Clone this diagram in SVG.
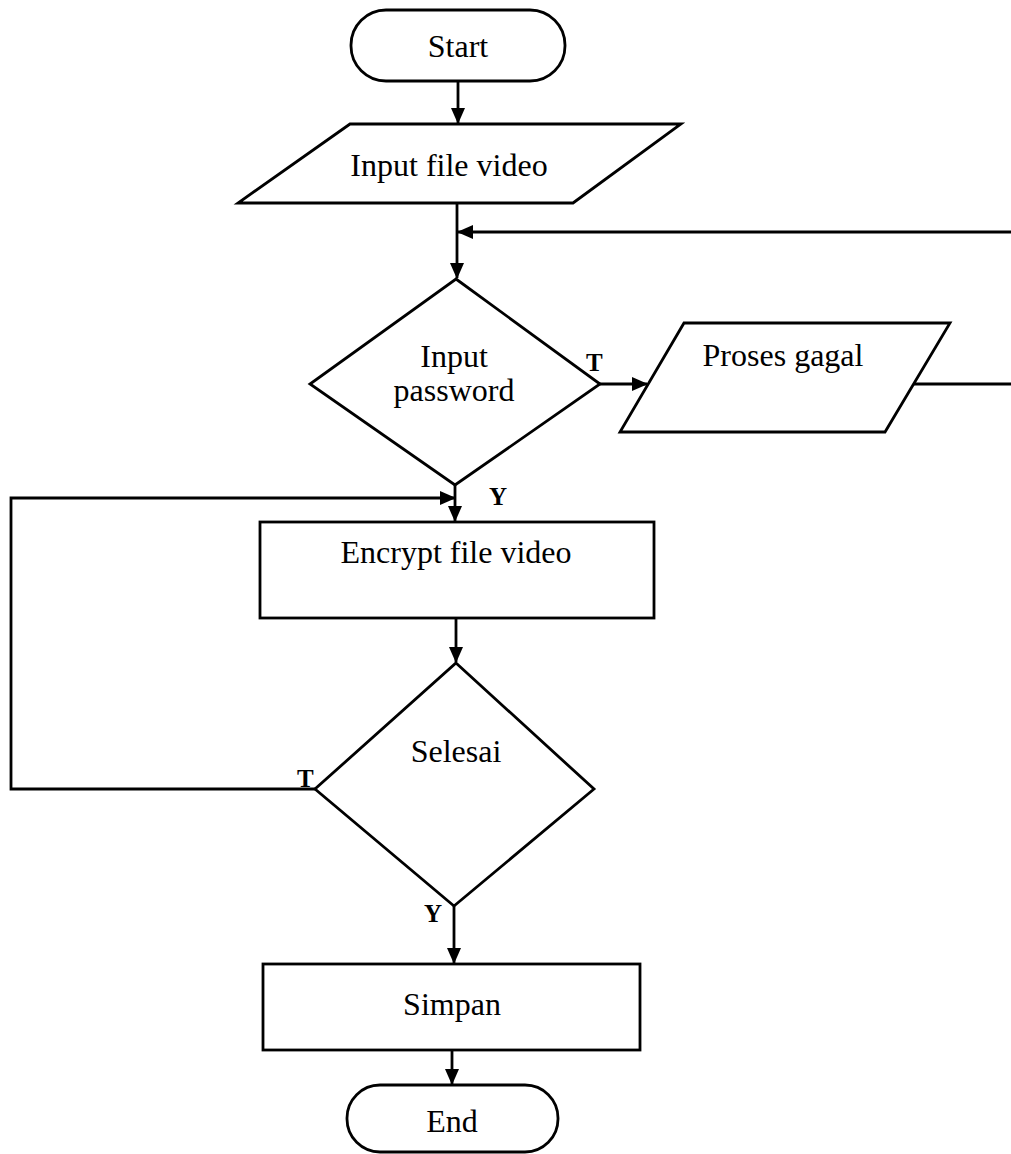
<svg xmlns="http://www.w3.org/2000/svg" width="1011" height="1154" viewBox="0 0 1011 1154">
  <style>
    .shape { fill: #ffffff; stroke: #000000; stroke-width: 2.8; stroke-linejoin: miter; }
    .arrow { fill: none; stroke: #000000; stroke-width: 2.8; marker-end: url(#head); }
    .label { font-family: "Liberation Serif", "Times New Roman", serif; font-size: 32px; fill: #000000; text-anchor: middle; }
    .tag { font-family: "Liberation Serif", "Times New Roman", serif; font-size: 25px; font-weight: bold; fill: #000000; }
  </style>
  <defs>
    <marker id="head" viewBox="0 0 16 14" refX="15" refY="7" markerWidth="16" markerHeight="14" markerUnits="userSpaceOnUse" orient="auto">
      <path d="M0,0 L16,7 L0,14 Z" fill="#000000"/>
    </marker>
  </defs>
  <rect width="1011" height="1154" fill="#ffffff"/>

  <!-- connectors -->
  <g id="connectors">
    <path class="arrow" d="M458,81 V123"/>
    <path class="arrow" d="M457,203 V278"/>
    <path class="arrow" d="M913,384 H1014 V232 H458"/>
    <path class="arrow" d="M600,384 H647"/>
    <path class="arrow" d="M455,485 V521"/>
    <path class="arrow" d="M315,789 H11 V498 H455"/>
    <path class="arrow" d="M456,618 V662"/>
    <path class="arrow" d="M454,906 V963"/>
    <path class="arrow" d="M452,1050 V1084"/>
  </g>

  <!-- nodes -->
  <g id="start">
    <rect class="shape" x="351" y="10" width="214" height="71" rx="35" ry="35"/>
    <text class="label" x="458" y="57">Start</text>
  </g>
  <g id="input-file-video">
    <polygon class="shape" points="350,124 681,124 573,203 238,203"/>
    <text class="label" x="449" y="176">Input file video</text>
  </g>
  <g id="input-password">
    <polygon class="shape" points="456,279 600,384 455,485 310,384"/>
    <text class="label" x="454" y="367">Input</text>
    <text class="label" x="454" y="401">password</text>
  </g>
  <g id="proses-gagal">
    <polygon class="shape" points="684,323 950,323 885,432 620,432"/>
    <text class="label" x="783" y="366">Proses gagal</text>
  </g>
  <g id="encrypt-file-video">
    <rect class="shape" x="260" y="522" width="394" height="96"/>
    <text class="label" x="456" y="563">Encrypt file video</text>
  </g>
  <g id="selesai">
    <polygon class="shape" points="456,663 594,789 454,906 315,789"/>
    <text class="label" x="456" y="762">Selesai</text>
  </g>
  <g id="simpan">
    <rect class="shape" x="263" y="964" width="377" height="86"/>
    <text class="label" x="452" y="1015">Simpan</text>
  </g>
  <g id="end">
    <rect class="shape" x="347" y="1085" width="211" height="67" rx="33" ry="33"/>
    <text class="label" x="452" y="1132">End</text>
  </g>

  <!-- branch labels -->
  <g id="branch-labels">
    <text class="tag" x="586" y="371">T</text>
    <text class="tag" x="489" y="505">Y</text>
    <text class="tag" x="297" y="787">T</text>
    <text class="tag" x="424" y="922">Y</text>
  </g>
</svg>
